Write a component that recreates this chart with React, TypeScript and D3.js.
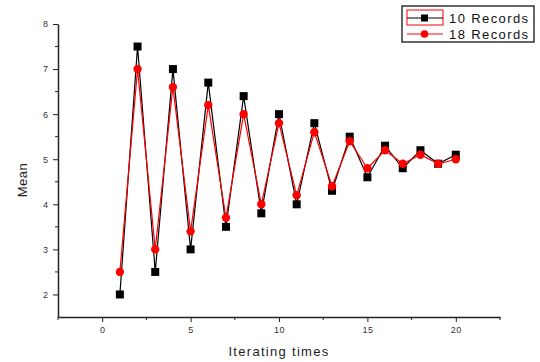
import { useEffect, useRef } from "react"
import * as d3 from "d3"

const iterations = d3.range(1, 21)
const records10 = [2.0, 7.5, 2.5, 7.0, 3.0, 6.7, 3.5, 6.4, 3.8, 6.0, 4.0, 5.8, 4.3, 5.5, 4.6, 5.3, 4.8, 5.2, 4.9, 5.1]
const records18 = [2.5, 7.0, 3.0, 6.6, 3.4, 6.2, 3.7, 6.0, 4.0, 5.8, 4.2, 5.6, 4.4, 5.4, 4.8, 5.2, 4.9, 5.1, 4.9, 5.0]
const xTicks = [0, 5, 10, 15, 20]
const yTicks = [2, 3, 4, 5, 6, 7, 8]
const seriesNames = ["10 Records", "18 Records"]

const App = () => {
  const svgRef = useRef<SVGSVGElement>(null)

  useEffect(() => {
    const svg = d3.select(svgRef.current)
    svg.selectAll("*").remove()

    const width = 540
    const height = 362
    const margin = { top: 24, right: 40, bottom: 45, left: 58 }

    const x = d3.scaleLinear().domain([-2.5, 22.5]).range([margin.left, width - margin.right])
    const y = d3.scaleLinear().domain([1.5, 8]).range([height - margin.bottom, margin.top])

    const font = "Arial, 'Liberation Sans', sans-serif"

    // axes
    const xAxis = svg
      .append("g")
      .attr("transform", `translate(0,${y(1.5)})`)
      .call(d3.axisBottom(x).tickValues(xTicks).tickFormat(d3.format("d")).tickSize(5).tickPadding(5).tickSizeOuter(0))
    xAxis.select(".domain").attr("stroke", "#222").attr("stroke-width", 1.5)
    xAxis.selectAll("text").style("font-family", font).style("font-size", "9px").style("letter-spacing", "0.5px").attr("fill", "#333")
    xAxis.selectAll("line").attr("stroke", "#222")
    svg
      .append("g")
      .selectAll("line")
      .data([-2.5, 2.5, 7.5, 12.5, 17.5, 22.5])
      .join("line")
      .attr("x1", (d) => x(d))
      .attr("x2", (d) => x(d))
      .attr("y1", y(1.5))
      .attr("y2", y(1.5) + 3)
      .attr("stroke", "#222")

    const yAxis = svg
      .append("g")
      .attr("transform", `translate(${x(-2.5)},0)`)
      .call(d3.axisLeft(y).tickValues(yTicks).tickFormat(d3.format("d")).tickSize(5).tickPadding(5).tickSizeOuter(0))
    yAxis.select(".domain").attr("stroke", "#222").attr("stroke-width", 1.5)
    yAxis.selectAll("text").style("font-family", font).style("font-size", "9px").attr("fill", "#333")
    yAxis.selectAll("line").attr("stroke", "#222")
    svg
      .append("g")
      .selectAll("line")
      .data([2.5, 3.5, 4.5, 5.5, 6.5, 7.5])
      .join("line")
      .attr("x1", x(-2.5))
      .attr("x2", x(-2.5) - 3)
      .attr("y1", (d) => y(d))
      .attr("y2", (d) => y(d))
      .attr("stroke", "#222")

    // axis titles
    svg
      .append("text")
      .attr("x", (x(-2.5) + x(22.5)) / 2)
      .attr("y", 356)
      .attr("text-anchor", "middle")
      .style("font-family", font)
      .style("font-size", "13px")
      .style("letter-spacing", "1.3px")
      .attr("fill", "#222")
      .text("Iterating times")
    svg
      .append("text")
      .attr("transform", `translate(27,180) rotate(-90)`)
      .attr("text-anchor", "middle")
      .style("font-family", font)
      .style("font-size", "13px")
      .style("letter-spacing", "0.5px")
      .attr("fill", "#222")
      .text("Mean")

    const line = d3
      .line<number>()
      .x((_, i) => x(iterations[i]))
      .y((d) => y(d))

    // 10 records (black squares)
    svg.append("path").datum(records10).attr("d", line).attr("fill", "none").attr("stroke", "#000").attr("stroke-width", 1.2)
    svg
      .append("g")
      .selectAll("rect")
      .data(records10)
      .join("rect")
      .attr("x", (_, i) => x(iterations[i]) - 4)
      .attr("y", (d) => y(d) - 4)
      .attr("width", 8)
      .attr("height", 8)
      .attr("fill", "#000")

    // 18 records (red circles)
    svg.append("path").datum(records18).attr("d", line).attr("fill", "none").attr("stroke", "#ff0000").attr("stroke-width", 1.2)
    svg
      .append("g")
      .selectAll("circle")
      .data(records18)
      .join("circle")
      .attr("cx", (_, i) => x(iterations[i]))
      .attr("cy", (d) => y(d))
      .attr("r", 4.2)
      .attr("fill", "#ff0000")

    // legend
    const lg = svg.append("g")
    lg.append("rect")
      .attr("x", 402)
      .attr("y", 6)
      .attr("width", 132)
      .attr("height", 36)
      .attr("fill", "#fff")
      .attr("stroke", "#000")
      .attr("stroke-width", 1.2)
    lg.append("rect")
      .attr("x", 407)
      .attr("y", 10)
      .attr("width", 36)
      .attr("height", 15)
      .attr("fill", "none")
      .attr("stroke", "#ff0000")
      .attr("stroke-width", 1)
    seriesNames.forEach((name, i) => {
      const cy = 18 + i * 16
      const color = i === 0 ? "#000" : "#ff0000"
      lg.append("line").attr("x1", 407).attr("x2", 443).attr("y1", cy).attr("y2", cy).attr("stroke", color).attr("stroke-width", 1)
      if (i === 0) {
        lg.append("rect").attr("x", 421).attr("y", cy - 3.5).attr("width", 7).attr("height", 7).attr("fill", color)
      } else {
        lg.append("circle").attr("cx", 424.5).attr("cy", cy).attr("r", 3.8).attr("fill", color)
      }
      lg.append("text")
        .attr("x", 449)
        .attr("y", cy + 5)
        .style("font-family", font)
        .style("font-size", "13px")
        .style("letter-spacing", "1.4px")
        .attr("fill", "#111")
        .text(name)
    })
  }, [])

  return <svg ref={svgRef} width={540} height={362} style={{ position: "absolute", left: 0, top: 0, background: "#fff" }} />
}

export default App
